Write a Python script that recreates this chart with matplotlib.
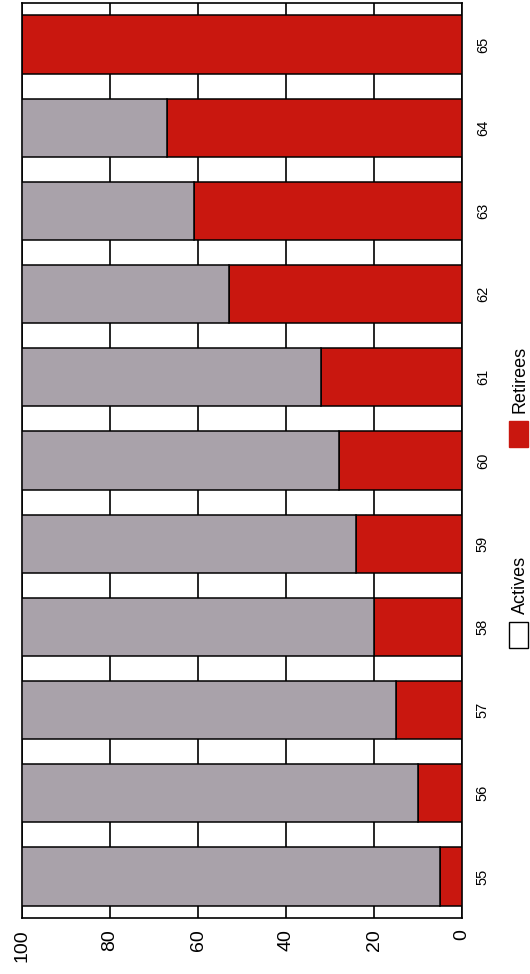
import matplotlib
matplotlib.use('Agg')
import matplotlib.pyplot as plt
from matplotlib.patches import Rectangle

ages = ['55', '56', '57', '58', '59', '60', '61', '62', '63', '64', '65']
retirees = [5, 10, 15, 20, 24, 28, 32, 53, 61, 67, 100]
actives = [95, 90, 85, 80, 76, 72, 68, 47, 39, 33, 0]
pct_ticks = [0, 20, 40, 60, 80, 100]

red = '#c9170f'
grey = '#a9a2aa'

W, H = 530, 974
fig = plt.figure(figsize=(W / 100, H / 100), dpi=100)
ax = fig.add_axes([22 / W, 1 - 918 / H, (462 - 22) / W, (918 - 3) / H])

pos = list(range(len(ages)))
ax.barh(pos, retirees, height=0.7, color=red, edgecolor='black', linewidth=1.1, zorder=3)
ax.barh(pos, actives, left=retirees, height=0.7, color=grey, edgecolor='black',
        linewidth=1.1, zorder=3)

# chart is laid on its side: 100 at the left, 0 at the right
ax.set_xlim(100, 0)
ax.set_ylim(-0.5, len(ages) - 0.5)
ax.set_xticks(pct_ticks)
ax.set_xticklabels([str(t) for t in pct_ticks], rotation=90, family='Liberation Sans',
                   fontsize=14)
ax.xaxis.grid(True, color='black', linewidth=1.2)
ax.set_axisbelow(True)
ax.tick_params(axis='x', length=0, pad=8)

ax.yaxis.tick_right()
ax.set_yticks(pos)
ax.set_yticklabels(ages, rotation=90, va='center', family='Liberation Sans', fontsize=10.5)
ax.tick_params(axis='y', length=0, pad=10)

for s in ax.spines.values():
    s.set_color('black')
    s.set_linewidth(1.2)

# legend, turned with the chart
def fx(px):
    return px / W

def fy(py):
    return 1 - py / H

fig.patches.append(Rectangle((fx(509), fy(648)), 19 / W, 26 / H, transform=fig.transFigure,
                             facecolor='white', edgecolor='black', linewidth=1.0))
fig.text(fx(529), fy(614), 'Actives', rotation=90, ha='right', va='bottom',
         family='Liberation Sans', fontsize=13)
fig.patches.append(Rectangle((fx(509), fy(447)), 19 / W, 26 / H, transform=fig.transFigure,
                             facecolor=red, edgecolor=red, linewidth=1.0))
fig.text(fx(529), fy(413), 'Retirees', rotation=90, ha='right', va='bottom',
         family='Liberation Sans', fontsize=13)

fig.savefig('out.png', dpi=100)
